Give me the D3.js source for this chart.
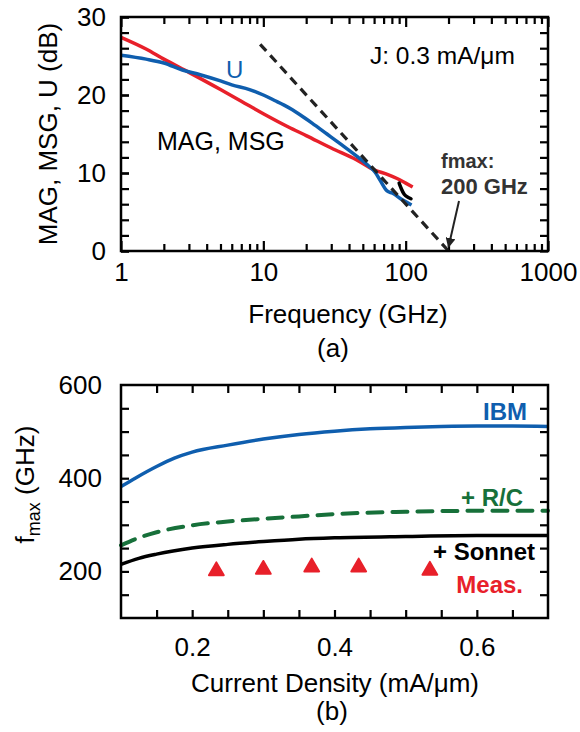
<!DOCTYPE html>
<html><head><meta charset="utf-8">
<script src="https://cdn.jsdelivr.net/npm/d3@7"></script>
<style>
body{margin:0;background:#fff;}
svg{display:block;font-family:"Liberation Sans",Arial,sans-serif;}
</style></head>
<body><svg id="c" width="580" height="732"></svg>
<script>
// ---- Panel (a) data ----
const freqTicks = [1, 10, 100, 1000];
const gainTicks = [0, 10, 20, 30];
const magMsg = [[1,27.4],[1.5,25.9],[2,24.6],[3,22.9],[5,20.7],[7,19.2],[10,17.6],[15,15.9],[20,14.8],[30,13.2],[45,11.7],[60,10.4],[75,9.8],[87,9.3],[100,8.7],[112,8.2]];
const uGain = [[1,25.1],[1.5,24.6],[2,24.1],[2.7,23.2],[3.6,22.6],[5,21.8],[6,21.3],[8,20.7],[10,20.0],[12,19.3],[14,18.7],[16,18.1],[18,17.5],[22,16.4],[28,15.0],[35,13.7],[45,12.2],[55,10.9],[61,10.1],[66,9.1],[74,7.7],[81,7.4],[94,6.6],[110,5.9]];
const hook = [[90,8.7],[93,8.0],[97.5,7.2],[103,6.9],[109,6.7]];
const fmaxLine = [[9.5,26.5],[200,0]];
// ---- Panel (b) data ----
const jTicks = [0.2, 0.4, 0.6];
const fTicks = [200, 400, 600];
const ibm = [[0.1,382],[0.12,400],[0.15,425],[0.175,443],[0.2,456],[0.25,471],[0.3,484],[0.35,494],[0.4,501],[0.45,506],[0.5,509],[0.55,511],[0.6,512],[0.65,512],[0.7,511]];
const rc = [[0.1,256],[0.125,272],[0.15,284],[0.2,299],[0.25,307],[0.3,313],[0.35,318],[0.4,323],[0.5,328],[0.6,330],[0.7,330]];
const sonnet = [[0.1,215],[0.125,228],[0.15,237],[0.2,250],[0.25,258],[0.3,264],[0.35,269],[0.4,272],[0.5,275],[0.6,277],[0.7,277]];
const meas = [[0.234,201],[0.3,204],[0.368,209],[0.434,209],[0.534,202]];

const svg = d3.select("#c");
const RED="#e8202a", BLUE="#0f5eae", GREEN="#17703a";
const FS=26;

// ================= Panel (a) =================
const A = {l:121, r:548, t:17, b:251};
const xa = d3.scaleLog().domain([1,1000]).range([A.l,A.r]);
const ya = d3.scaleLinear().domain([0,30]).range([A.b,A.t]);
const ga = svg.append("g");

const minorF = [];
[1,10,100].forEach(d=>{for(let k=2;k<=9;k++) minorF.push(d*k);});
const minorG = d3.range(0,31,2);

function styleAxis(g){g.select(".domain").remove();g.selectAll(".tick line").attr("stroke","#000").attr("stroke-width",2.2);g.selectAll("text").attr("font-size",FS).attr("fill","#000").attr("font-family","Liberation Sans, Arial, sans-serif");}

ga.append("g").attr("transform",`translate(0,${A.b})`).call(d3.axisBottom(xa).tickValues(freqTicks).tickFormat(d3.format("d")).tickSizeInner(-10).tickSizeOuter(0).tickPadding(12)).call(styleAxis);
ga.append("g").attr("transform",`translate(0,${A.b})`).call(d3.axisBottom(xa).tickValues(minorF).tickFormat("").tickSizeInner(-7).tickSizeOuter(0)).call(styleAxis);
ga.append("g").attr("transform",`translate(0,${A.t})`).call(d3.axisTop(xa).tickValues(freqTicks).tickFormat("").tickSizeInner(-10).tickSizeOuter(0)).call(styleAxis);
ga.append("g").attr("transform",`translate(0,${A.t})`).call(d3.axisTop(xa).tickValues(minorF).tickFormat("").tickSizeInner(-7).tickSizeOuter(0)).call(styleAxis);
ga.append("g").attr("transform",`translate(${A.l},0)`).call(d3.axisLeft(ya).tickValues(gainTicks).tickSizeInner(-8).tickSizeOuter(0).tickPadding(15)).call(styleAxis);
ga.append("g").attr("transform",`translate(${A.l},0)`).call(d3.axisLeft(ya).tickValues(minorG).tickFormat("").tickSizeInner(-8).tickSizeOuter(0)).call(styleAxis);
ga.append("g").attr("transform",`translate(${A.r},0)`).call(d3.axisRight(ya).tickValues(minorG).tickFormat("").tickSizeInner(-8).tickSizeOuter(0)).call(styleAxis);

const la = d3.line().x(d=>xa(d[0])).y(d=>ya(d[1])).curve(d3.curveMonotoneX);
ga.append("path").datum(magMsg).attr("d",la).attr("fill","none").attr("stroke",RED).attr("stroke-width",3.5);
ga.append("path").datum(uGain).attr("d",la).attr("fill","none").attr("stroke",BLUE).attr("stroke-width",3.5);
ga.append("path").datum(fmaxLine).attr("d",d3.line().x(d=>xa(d[0])).y(d=>ya(d[1]))).attr("fill","none").attr("stroke","#222").attr("stroke-width",3.2).attr("stroke-dasharray","9,6");
ga.append("path").datum(hook).attr("d",d3.line().x(d=>xa(d[0])).y(d=>ya(d[1])).curve(d3.curveBasis)).attr("fill","none").attr("stroke","#000").attr("stroke-width",3.5).attr("stroke-linecap","round");

ga.append("rect").attr("x",A.l).attr("y",A.t).attr("width",A.r-A.l).attr("height",A.b-A.t).attr("fill","none").attr("stroke","#000").attr("stroke-width",2.5);

ga.append("text").attr("x",226).attr("y",78).attr("font-size",24).attr("fill",BLUE).text("U");
ga.append("text").attr("x",157).attr("y",150).attr("font-size",25).attr("fill","#000").text("MAG, MSG");
ga.append("text").attr("x",370).attr("y",64).attr("font-size",24.5).attr("fill","#000").text("J: 0.3 mA/μm");
ga.append("text").attr("x",441).attr("y",168).attr("font-size",20).attr("font-weight","bold").attr("fill","#333").text("fmax:");
ga.append("text").attr("x",441).attr("y",194).attr("font-size",22).attr("font-weight","bold").attr("fill","#333").text("200 GHz");

svg.append("defs").append("marker").attr("id","ah").attr("viewBox","0 0 10 10").attr("refX",9).attr("refY",5).attr("markerWidth",5).attr("markerHeight",5).attr("orient","auto")
 .append("path").attr("d","M0,0L10,5L0,10z").attr("fill","#222");
ga.append("line").attr("x1",459).attr("y1",201).attr("x2",xa(200)).attr("y2",247).attr("stroke","#222").attr("stroke-width",2).attr("marker-end","url(#ah)");

ga.append("text").attr("transform",`translate(57,${(A.t+A.b)/2}) rotate(-90)`).attr("text-anchor","middle").attr("font-size",FS).text("MAG, MSG, U (dB)");
ga.append("text").attr("x",348).attr("y",323).attr("text-anchor","middle").attr("font-size",FS).text("Frequency (GHz)");
ga.append("text").attr("x",333).attr("y",357).attr("text-anchor","middle").attr("font-size",FS).text("(a)");

// ================= Panel (b) =================
const B = {l:121, r:548, t:385, b:618};
const xb = d3.scaleLinear().domain([0.1,0.7]).range([B.l,B.r]);
const yb = d3.scaleLinear().domain([100,600]).range([B.b,B.t]);
const gb = svg.append("g");
const minorJ = d3.range(0.15,0.7,0.05).map(d=>+d.toFixed(2));
const minorY = d3.range(150,600,50);

gb.append("g").attr("transform",`translate(0,${B.b})`).call(d3.axisBottom(xb).tickValues(jTicks).tickFormat(d3.format(".1f")).tickSizeInner(0).tickSizeOuter(0).tickPadding(20)).call(styleAxis);
gb.append("g").attr("transform",`translate(0,${B.b})`).call(d3.axisBottom(xb).tickValues(minorJ).tickFormat("").tickSizeInner(-8).tickSizeOuter(0)).call(styleAxis);
gb.append("g").attr("transform",`translate(0,${B.t})`).call(d3.axisTop(xb).tickValues(minorJ).tickFormat("").tickSizeInner(-8).tickSizeOuter(0)).call(styleAxis);
gb.append("g").attr("transform",`translate(${B.l},0)`).call(d3.axisLeft(yb).tickValues(fTicks).tickSizeInner(0).tickSizeOuter(0).tickPadding(19)).call(styleAxis);
gb.append("g").attr("transform",`translate(${B.l},0)`).call(d3.axisLeft(yb).tickValues(minorY).tickFormat("").tickSizeInner(-8).tickSizeOuter(0)).call(styleAxis);
gb.append("g").attr("transform",`translate(${B.r},0)`).call(d3.axisRight(yb).tickValues(minorY).tickFormat("").tickSizeInner(-8).tickSizeOuter(0)).call(styleAxis);

const lb = d3.line().x(d=>xb(d[0])).y(d=>yb(d[1])).curve(d3.curveMonotoneX);
gb.append("path").datum(ibm).attr("d",lb).attr("fill","none").attr("stroke",BLUE).attr("stroke-width",3.5);
gb.append("path").datum(rc).attr("d",lb).attr("fill","none").attr("stroke",GREEN).attr("stroke-width",4).attr("stroke-dasharray","15,10").attr("stroke-linecap","round");
gb.append("path").datum(sonnet).attr("d",lb).attr("fill","none").attr("stroke","#000").attr("stroke-width",3.5);
gb.selectAll(".tri").data(meas).enter().append("path")
  .attr("d",d3.symbol().type(d3.symbolTriangle).size(95))
  .attr("transform",d=>`translate(${xb(d[0])},${yb(d[1])})`)
  .attr("fill",RED).attr("stroke",RED).attr("stroke-width",2).attr("stroke-linejoin","round");

gb.append("rect").attr("x",B.l).attr("y",B.t).attr("width",B.r-B.l).attr("height",B.b-B.t).attr("fill","none").attr("stroke","#000").attr("stroke-width",2.5);

gb.append("text").attr("x",527).attr("y",420).attr("text-anchor","end").attr("font-size",24).attr("font-weight","bold").attr("fill",BLUE).text("IBM");
gb.append("text").attr("x",523).attr("y",506).attr("text-anchor","end").attr("font-size",24).attr("font-weight","bold").attr("fill",GREEN).text("+ R/C");
gb.append("text").attr("x",535).attr("y",560).attr("text-anchor","end").attr("font-size",24).attr("font-weight","bold").attr("fill","#000").text("+ Sonnet");
gb.append("text").attr("x",523).attr("y",593).attr("text-anchor","end").attr("font-size",24).attr("font-weight","bold").attr("fill",RED).text("Meas.");

const yt = gb.append("text").attr("transform",`translate(34,${(B.t+B.b)/2 - 17}) rotate(-90)`).attr("text-anchor","middle").attr("font-size",FS);
yt.append("tspan").text("f");
yt.append("tspan").attr("font-size",18).attr("dy",6).text("max");
yt.append("tspan").attr("dy",-6).text(" (GHz)");
gb.append("text").attr("x",335).attr("y",692).attr("text-anchor","middle").attr("font-size",FS).text("Current Density (mA/μm)");
gb.append("text").attr("x",332).attr("y",720).attr("text-anchor","middle").attr("font-size",FS).text("(b)");
</script></body></html>
